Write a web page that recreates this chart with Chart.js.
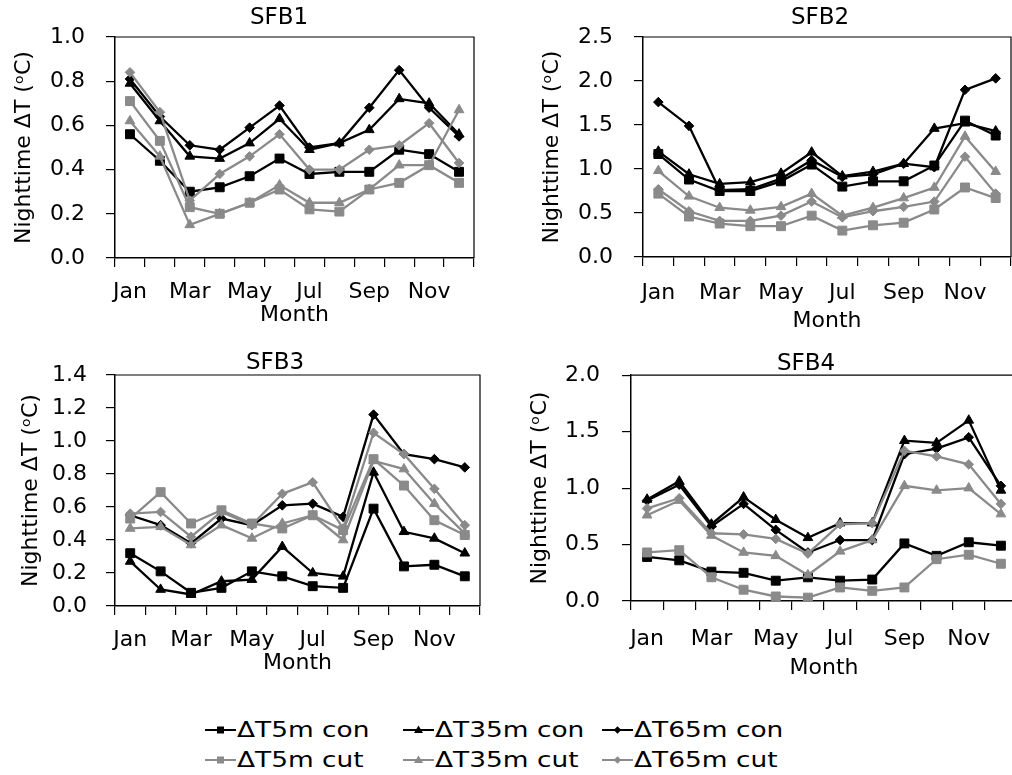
<!DOCTYPE html>
<html>
<head>
<meta charset="utf-8">
<title>Nighttime ΔT by month, SFB1–SFB4</title>
<script src="https://cdn.jsdelivr.net/npm/chart.js@4.4.1/dist/chart.umd.min.js"></script>
<style>
  html, body { margin: 0; padding: 0; background: #fff; }
  body { width: 1012px; height: 775px; overflow: hidden; position: relative; font-family: "DejaVu Sans", sans-serif; }
  canvas { position: absolute; }
  .key { position: absolute; height: 26px; line-height: 26px; font-size: 22px; color: #000; white-space: nowrap; }
  .key svg { position: absolute; left: 0; top: 0; }
  .key span { position: absolute; top: 0; left: 32px; display: inline-block; transform: scaleX(1.2); transform-origin: 0 50%; }
</style>
</head>
<body>
<canvas id="sfb1" width="558" height="340" style="left:0px;top:0px;width:558px;height:340px"></canvas>
<canvas id="sfb2" width="584" height="339" style="left:528px;top:0px;width:584px;height:339px"></canvas>
<canvas id="sfb3" width="550" height="348" style="left:0px;top:340px;width:550px;height:348px"></canvas>
<canvas id="sfb4" width="580" height="343" style="left:516px;top:340px;width:580px;height:343px"></canvas>
<div id="key"></div>
<script>
// ---- categories and tick labels ----
const months = ['Jan','Feb','Mar','Apr','May','Jun','Jul','Aug','Sep','Oct','Nov','Dec'];
const monthTicks = ['Jan','Mar','May','Jul','Sep','Nov'];
const seriesNames = ['ΔT5m con','ΔT35m con','ΔT65m con','ΔT5m cut','ΔT35m cut','ΔT65m cut'];

// ---- SFB1 ----
const sfb1YTicks = [0, 0.2, 0.4, 0.6, 0.8, 1.0];
const sfb1T5con  = [0.56,0.44,0.30,0.32,0.37,0.45,0.38,0.39,0.39,0.49,0.47,0.39];
const sfb1T35con = [0.79,0.62,0.46,0.45,0.52,0.63,0.49,0.52,0.58,0.72,0.70,0.56];
const sfb1T65con = [0.81,0.64,0.51,0.49,0.59,0.69,0.50,0.52,0.68,0.85,0.68,0.55];
const sfb1T5cut  = [0.71,0.53,0.23,0.20,0.25,0.31,0.22,0.21,0.31,0.34,0.42,0.34];
const sfb1T35cut = [0.62,0.46,0.15,0.20,0.25,0.33,0.25,0.25,0.31,0.42,0.42,0.67];
const sfb1T65cut = [0.84,0.66,0.26,0.38,0.46,0.56,0.40,0.40,0.49,0.51,0.61,0.43];

// ---- SFB2 ----
const sfb2YTicks = [0, 0.5, 1.0, 1.5, 2.0, 2.5];
const sfb2T5con  = [1.17,0.88,0.75,0.75,0.86,1.05,0.80,0.86,0.86,1.04,1.55,1.38];
const sfb2T35con = [1.20,0.94,0.83,0.85,0.95,1.19,0.92,0.97,1.06,1.46,1.52,1.43];
const sfb2T65con = [1.76,1.49,0.76,0.77,0.89,1.10,0.91,0.94,1.06,1.02,1.90,2.03];
const sfb2T5cut  = [0.72,0.46,0.38,0.35,0.35,0.47,0.30,0.36,0.39,0.54,0.79,0.67];
const sfb2T35cut = [0.98,0.69,0.56,0.53,0.57,0.72,0.47,0.56,0.67,0.79,1.37,0.97];
const sfb2T65cut = [0.77,0.52,0.41,0.41,0.47,0.63,0.45,0.52,0.57,0.63,1.14,0.72];

// ---- SFB3 ----
const sfb3YTicks = [0, 0.2, 0.4, 0.6, 0.8, 1.0, 1.2, 1.4];
const sfb3T5con  = [0.32,0.21,0.08,0.11,0.21,0.18,0.12,0.11,0.59,0.24,0.25,0.18];
const sfb3T35con = [0.27,0.10,0.07,0.15,0.16,0.36,0.20,0.18,0.81,0.45,0.41,0.32];
const sfb3T65con = [0.55,0.49,0.38,0.53,0.49,0.61,0.62,0.54,1.16,0.92,0.89,0.84];
const sfb3T5cut  = [0.53,0.69,0.50,0.58,0.50,0.47,0.55,0.46,0.89,0.73,0.52,0.43];
const sfb3T35cut = [0.47,0.48,0.37,0.49,0.41,0.50,0.55,0.40,0.88,0.83,0.62,0.44];
const sfb3T65cut = [0.56,0.57,0.42,0.57,0.49,0.68,0.75,0.47,1.05,0.92,0.71,0.49];

// ---- SFB4 ----
const sfb4YTicks = [0, 0.5, 1.0, 1.5, 2.0];
const sfb4T5con  = [0.39,0.36,0.26,0.25,0.18,0.21,0.18,0.19,0.51,0.40,0.52,0.49];
const sfb4T35con = [0.90,1.06,0.68,0.92,0.72,0.56,0.69,0.69,1.42,1.40,1.60,0.98];
const sfb4T65con = [0.89,1.03,0.66,0.86,0.63,0.43,0.54,0.54,1.30,1.35,1.45,1.02];
const sfb4T5cut  = [0.43,0.45,0.21,0.10,0.04,0.03,0.12,0.09,0.12,0.37,0.41,0.33];
const sfb4T35cut = [0.76,0.89,0.58,0.43,0.40,0.23,0.44,0.54,1.02,0.98,1.00,0.77];
const sfb4T65cut = [0.82,0.91,0.60,0.59,0.55,0.42,0.68,0.69,1.33,1.28,1.21,0.86];

// ---- styling ----
const BLACK = '#000000';
const GRAY = '#8a8a8a';
const seriesColors = [BLACK, BLACK, BLACK, GRAY, GRAY, GRAY];
const seriesMarkers = ['rect', 'triangle', 'rectRot', 'rect', 'triangle', 'rectRot'];
const markerRadius = { rect: 6.3, triangle: 5.6, rectRot: 4.8 };

Chart.defaults.font.family = "'DejaVu Sans', sans-serif";
Chart.defaults.color = '#000';

// top and right edges of the plot frame
const framePlugin = {
  id: 'frame',
  beforeDatasetsDraw(chart) {
    const { ctx, chartArea: { left, top, right, bottom } } = chart;
    ctx.save();
    ctx.strokeStyle = '#000';
    ctx.lineWidth = 1.2;
    ctx.beginPath();
    ctx.moveTo(left, top);
    ctx.lineTo(right, top);
    ctx.lineTo(right, bottom);
    ctx.stroke();
    ctx.restore();
  }
};

function makePanel(id, p) {
  const datasets = p.series.map((values, i) => ({
    label: seriesNames[i],
    data: values,
    borderColor: seriesColors[i],
    backgroundColor: seriesColors[i],
    borderWidth: 2.3,
    tension: 0,
    pointStyle: seriesMarkers[i],
    pointRadius: markerRadius[seriesMarkers[i]],
    pointBorderWidth: 1,
    pointBackgroundColor: seriesColors[i],
    pointBorderColor: seriesColors[i],
    order: 6 - i
  }));
  return new Chart(document.getElementById(id), {
    type: 'line',
    data: { labels: months, datasets },
    options: {
      responsive: false,
      animation: false,
      events: [],
      layout: { padding: 0 },
      plugins: {
        legend: { display: false },
        tooltip: { enabled: false },
        title: {
          display: true,
          text: p.title,
          color: '#000',
          font: { size: 23, weight: 'normal', lineHeight: 1 },
          padding: { top: p.titleTop, bottom: p.titleBottom }
        }
      },
      scales: {
        x: {
          type: 'category',
          offset: true,
          afterFit: s => { s.height = p.xHeight; },
          ticks: {
            autoSkip: false, maxRotation: 0, minRotation: 0,
            padding: p.xTickPad, color: '#000', font: { size: 22 },
            callback: (v, i) => (monthTicks.includes(months[i]) ? months[i] : '')
          },
          grid: { offset: true, drawOnChartArea: false, color: '#000', tickLength: 9, lineWidth: 1.2 },
          border: { color: '#000', width: 1.5 },
          title: {
            display: true, text: 'Month', color: '#000',
            font: { size: 22, lineHeight: 1.2 },
            padding: { top: 0, bottom: p.xTitlePad }
          }
        },
        y: {
          position: 'left',
          min: p.yTicks[0],
          max: p.yTicks[p.yTicks.length - 1],
          afterBuildTicks: s => { s.ticks = p.yTicks.map(v => ({ value: v })); },
          afterFit: s => { s.width = p.yWidth; },
          ticks: { padding: p.yTickPad, color: '#000', font: { size: 22 }, callback: v => Number(v).toFixed(1) },
          grid: { drawOnChartArea: false, color: '#000', tickLength: 9, lineWidth: 1.2 },
          border: { color: '#000', width: 1.5 },
          title: {
            display: true, text: 'Nighttime ΔT (ᵒC)', color: '#000',
            font: { size: 22, lineHeight: 1.2 },
            padding: { top: p.yTitleShift, bottom: 0 }
          }
        },
        // blank margin to the right of the plot; keeps the panel title centred over the whole panel
        margin: {
          type: 'linear',
          position: 'right',
          afterFit: s => { s.width = p.rightMargin; },
          ticks: { display: false },
          grid: { display: false },
          border: { display: false }
        }
      }
    },
    plugins: [framePlugin]
  });
}

makePanel('sfb1', {
  title: 'SFB1', yTicks: sfb1YTicks,
  series: [sfb1T5con, sfb1T35con, sfb1T65con, sfb1T5cut, sfb1T35cut, sfb1T65cut],
  yWidth: 115, rightMargin: 84, xHeight: 82,
  titleTop: 7, titleBottom: 7, xTickPad: 12, xTitlePad: 11.5, yTickPad: 21, yTitleShift: 10.8
});
makePanel('sfb2', {
  title: 'SFB2', yTicks: sfb2YTicks,
  series: [sfb2T5con, sfb2T35con, sfb2T65con, sfb2T5cut, sfb2T35cut, sfb2T65cut],
  yWidth: 115, rightMargin: 101, xHeight: 82,
  titleTop: 7, titleBottom: 7, xTickPad: 14.5, xTitlePad: 4.5, yTickPad: 21, yTitleShift: 11.3
});
makePanel('sfb3', {
  title: 'SFB3', yTicks: sfb3YTicks,
  series: [sfb3T5con, sfb3T35con, sfb3T65con, sfb3T5cut, sfb3T35cut, sfb3T65cut],
  yWidth: 115, rightMargin: 70, xHeight: 82,
  titleTop: 12, titleBottom: 0, xTickPad: 12, xTitlePad: 11.5, yTickPad: 19, yTitleShift: 17.8
});
makePanel('sfb4', {
  title: 'SFB4', yTicks: sfb4YTicks,
  series: [sfb4T5con, sfb4T35con, sfb4T65con, sfb4T5cut, sfb4T35cut, sfb4T65cut],
  yWidth: 115, rightMargin: 79, xHeight: 82,
  titleTop: 12, titleBottom: 0, xTickPad: 16, xTitlePad: 2, yTickPad: 22, yTitleShift: 10.8
});

// ---- shared key below the panels ----
const keyCols = [205, 403, 602];
const keyRows = [717, 747];
function markerSvg(shape, color) {
  const c = 15.5, m = 13;
  let mark = '';
  if (shape === 'rect') mark = `<rect x="${c - 3.5}" y="${m - 3.5}" width="7" height="7" fill="${color}"/>`;
  if (shape === 'triangle') mark = `<polygon points="${c},${m - 4.5} ${c + 4.5},${m + 3} ${c - 4.5},${m + 3}" fill="${color}"/>`;
  if (shape === 'rectRot') mark = `<polygon points="${c},${m - 3.8} ${c + 3.8},${m} ${c},${m + 3.8} ${c - 3.8},${m}" fill="${color}"/>`;
  return `<svg width="32" height="26"><line x1="0" y1="${m}" x2="31" y2="${m}" stroke="${color}" stroke-width="2"/>${mark}</svg>`;
}
const key = document.getElementById('key');
seriesNames.forEach((name, i) => {
  const div = document.createElement('div');
  div.className = 'key';
  div.style.left = keyCols[i % 3] + 'px';
  div.style.top = keyRows[Math.floor(i / 3)] + 'px';
  div.innerHTML = markerSvg(seriesMarkers[i], seriesColors[i]) + `<span>${name}</span>`;
  key.appendChild(div);
});
</script>
</body>
</html>
